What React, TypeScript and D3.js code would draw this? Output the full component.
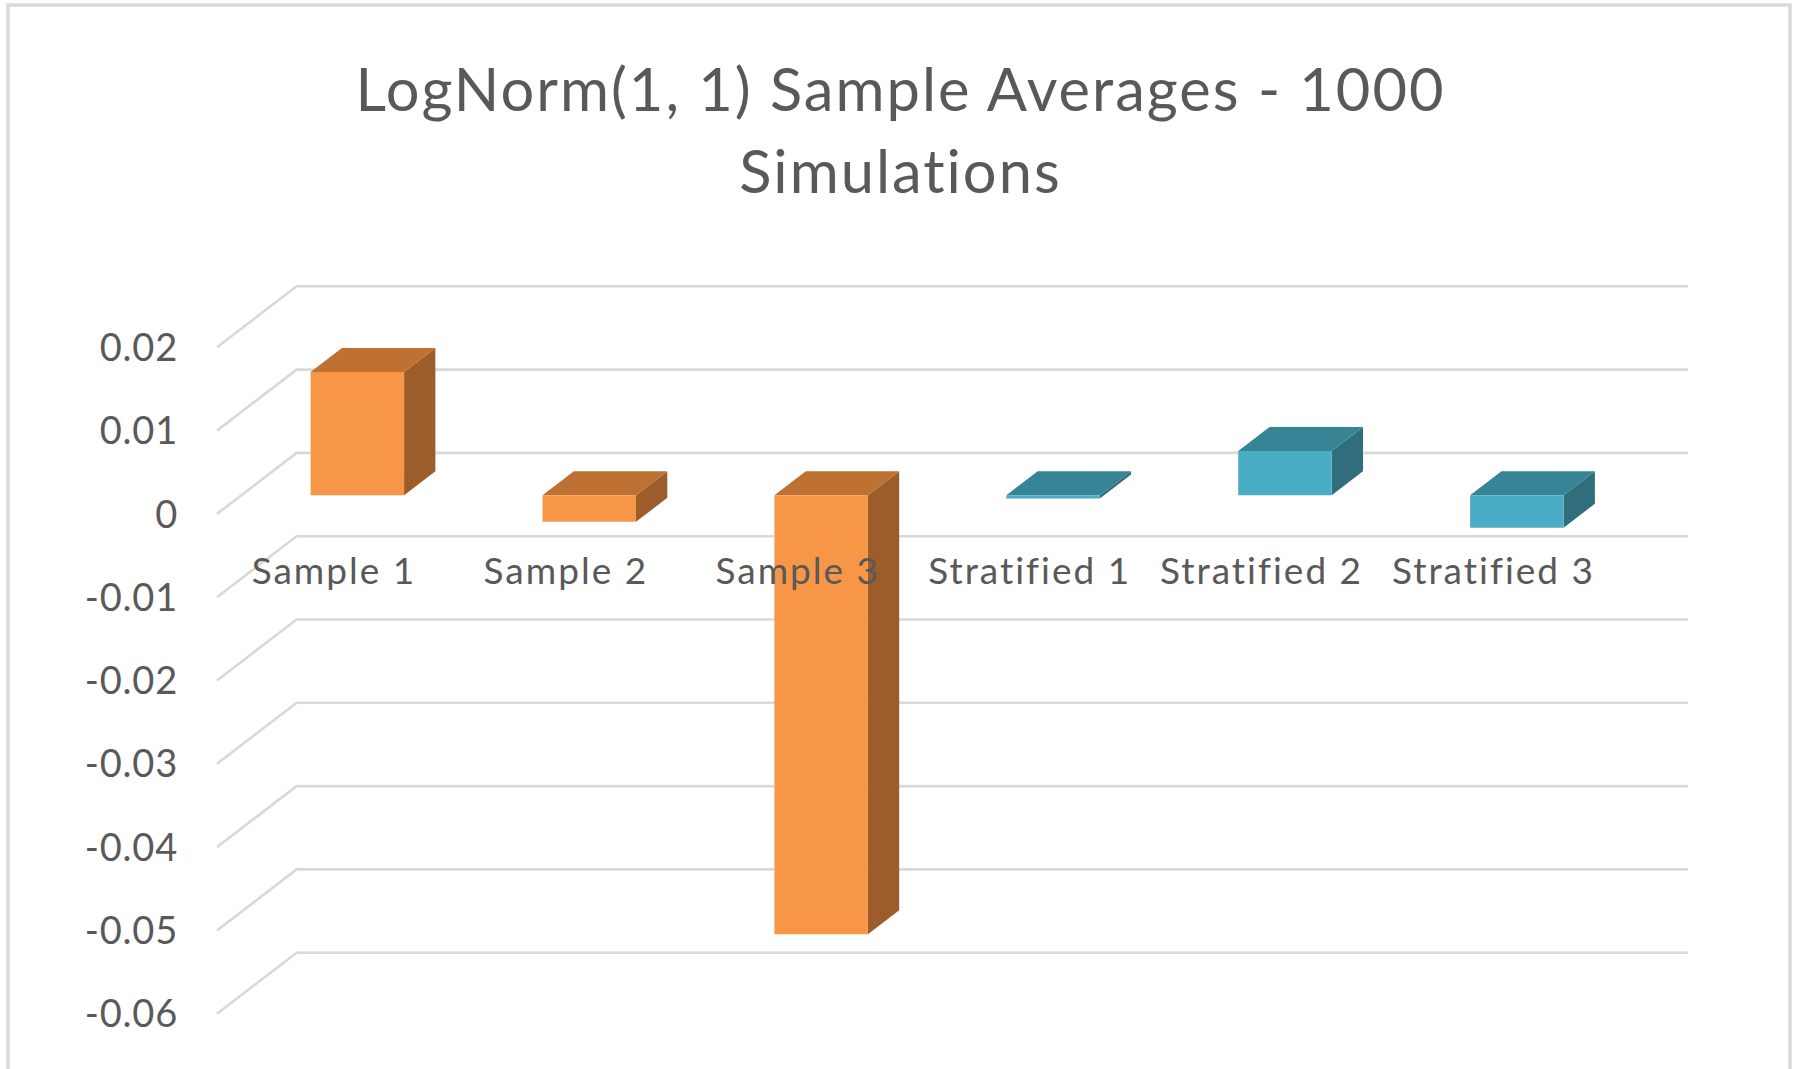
import React, { useEffect, useRef } from "react";
import * as d3 from "d3";

const categories = ["Sample 1", "Sample 2", "Sample 3", "Stratified 1", "Stratified 2", "Stratified 3"];
const averages = [0.0148, -0.0032, -0.0527, -0.0004, 0.0053, -0.0039];
const groups = ["sample", "sample", "sample", "stratified", "stratified", "stratified"];
const yTicks = [0.02, 0.01, 0, -0.01, -0.02, -0.03, -0.04, -0.05, -0.06];
const yTickLabels = ["0.02", "0.01", "0", "-0.01", "-0.02", "-0.03", "-0.04", "-0.05", "-0.06"];
const titleLines = ["LogNorm(1, 1) Sample Averages - 1000", "Simulations"];

const colors: Record<string, { front: string; top: string; side: string }> = {
  sample: { front: "#F79646", top: "#BE7133", side: "#9C5D2A" },
  stratified: { front: "#4BACC6", top: "#388497", side: "#306E7C" },
};

export default function App() {
  const ref = useRef<SVGSVGElement | null>(null);

  useEffect(() => {
    const width = 1799;
    const height = 1069;
    const svg = d3.select(ref.current);
    svg.selectAll("*").remove();
    svg.attr("width", width).attr("height", height);

    const textColor = "#595959";
    const gridColor = "#D9D9D9";
    const font = "Lato, 'Open Sans', sans-serif";
    const noLig = "font-variant-ligatures: none; font-feature-settings: 'liga' 0, 'clig' 0";

    // oblique depth vector (full depth of the floor)
    const depthX = 79.6;
    const depthY = -61;

    const x = d3.scaleBand<string>()
      .domain(categories)
      .range([217, 217 + 1391.4])
      .padding(0);

    const y = d3.scaleLinear()
      .domain([-0.06, 0.02])
      .range([1013.7, 347.3]);

    const proj = (px: number, v: number, d: number): [number, number] =>
      [px + d * depthX, y(v) + d * depthY];

    svg.append("rect")
      .attr("width", width).attr("height", height)
      .attr("fill", "#ffffff");

    svg.append("rect")
      .attr("x", 8).attr("y", 5)
      .attr("width", 1782).attr("height", height + 20)
      .attr("fill", "none")
      .attr("stroke", gridColor)
      .attr("stroke-width", 3.5);

    // title
    svg.append("g")
      .selectAll("text")
      .data(titleLines)
      .enter().append("text")
      .attr("x", 900.5)
      .attr("y", (d, i) => 111 + i * 82)
      .attr("text-anchor", "middle")
      .attr("font-family", font)
      .attr("font-size", 59.6)
      .attr("letter-spacing", 2)
      .attr("style", noLig)
      .attr("fill", textColor)
      .text(d => d);

    // gridlines: back wall line + diagonal on the left side wall
    const [x0, x1] = x.range();
    const grid = svg.append("g").attr("stroke", gridColor).attr("stroke-width", 2.6).attr("fill", "none");
    yTicks.forEach(v => {
      const front = proj(x0, v, 0);
      const backL = proj(x0, v, 1);
      const backR = proj(x1, v, 1);
      grid.append("path")
        .attr("d", d3.line()([front, backL, backR]));
    });

    // y tick labels
    svg.append("g")
      .selectAll("text")
      .data(yTicks)
      .enter().append("text")
      .attr("x", 178)
      .attr("y", v => y(v))
      .attr("dy", "0.36em")
      .attr("text-anchor", "end")
      .attr("font-family", font)
      .attr("font-size", 38)
      .attr("letter-spacing", 0.8)
      .attr("fill", textColor)
      .text((v, i) => yTickLabels[i]);

    // 3D bars
    const d0 = 0.3066;
    const d1 = 0.70;
    const barW = x.bandwidth() * 0.403;
    const bars = svg.append("g");
    categories.forEach((c, i) => {
      const v = averages[i];
      const col = colors[groups[i]];
      const left = (x(c) as number) + (x.bandwidth() - barW) / 2;
      const right = left + barW;
      const hi = Math.max(v, 0);
      const lo = Math.min(v, 0);
      const poly = (pts: [number, number][]) => "M" + pts.map(p => p.join(",")).join("L") + "Z";
      const g = bars.append("g");
      // side face
      g.append("path")
        .attr("d", poly([proj(right, hi, d0), proj(right, hi, d1), proj(right, lo, d1), proj(right, lo, d0)]))
        .attr("fill", col.side);
      // top face
      g.append("path")
        .attr("d", poly([proj(left, hi, d0), proj(left, hi, d1), proj(right, hi, d1), proj(right, hi, d0)]))
        .attr("fill", col.top);
      // front face
      g.append("path")
        .attr("d", poly([proj(left, hi, d0), proj(right, hi, d0), proj(right, lo, d0), proj(left, lo, d0)]))
        .attr("fill", col.front);
    });

    // category labels
    svg.append("g")
      .selectAll("text")
      .data(categories)
      .enter().append("text")
      .attr("x", c => (x(c) as number) + x.bandwidth() / 2 + 1)
      .attr("y", 584)
      .attr("text-anchor", "middle")
      .attr("font-family", font)
      .attr("font-size", 37)
      .attr("letter-spacing", 2)
      .attr("style", noLig)
      .attr("fill", textColor)
      .text(c => c);
  }, []);

  return (
    <div style={{ position: "absolute", left: 0, top: 0 }}>
      <svg ref={ref}></svg>
    </div>
  );
}
